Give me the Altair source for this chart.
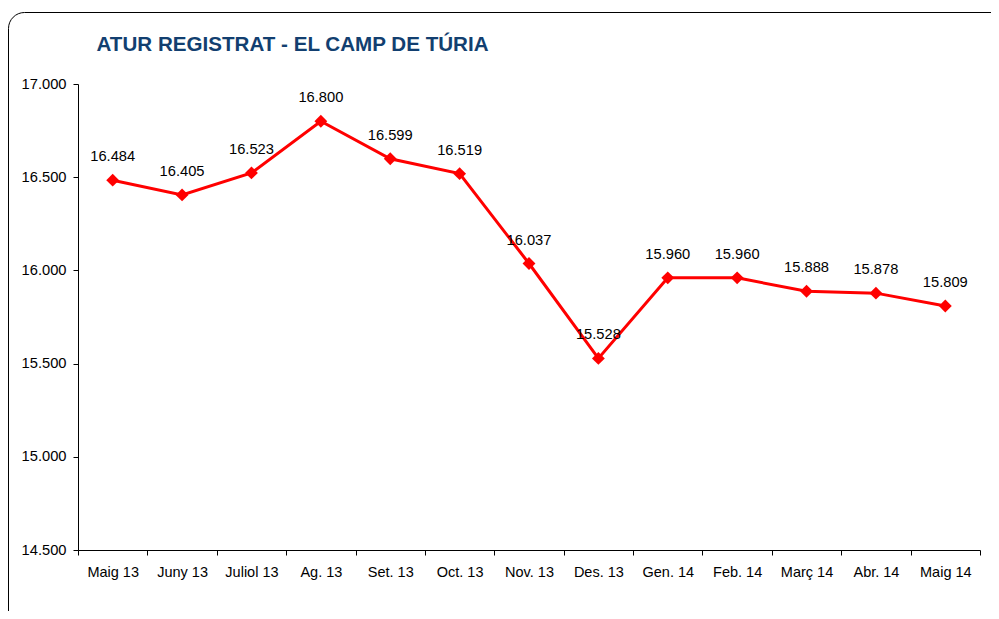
import altair as alt
import pandas as pd

months = ["Maig 13", "Juny 13", "Juliol 13", "Ag. 13", "Set. 13", "Oct. 13", "Nov. 13",
          "Des. 13", "Gen. 14", "Feb. 14", "Març 14", "Abr. 14", "Maig 14"]
values = [16484, 16405, 16523, 16800, 16599, 16519, 16037, 15528, 15960, 15960, 15888, 15878, 15809]
y_ticks = [14500, 15000, 15500, 16000, 16500, 17000]
title_text = "ATUR REGISTRAT - EL CAMP DE TÚRIA"

df = pd.DataFrame({"mes": months, "atur": values})
FONT = "Liberation Sans"

x_enc = alt.X("mes:N", sort=months, bandPosition=0.5,
              scale=alt.Scale(type="band", paddingInner=0, paddingOuter=0),
              axis=alt.Axis(title=None, labelAngle=0, tickBand="extent", tickSize=5,
                            labelPadding=10, labelFontSize=14.5, labelFont=FONT,
                            labelColor="black", domainColor="black", tickColor="black",
                            grid=False))
y_enc = alt.Y("atur:Q", scale=alt.Scale(domain=[14500, 17000], nice=False, zero=False),
              axis=alt.Axis(title=None, values=y_ticks, tickSize=5, labelPadding=7,
                            labelFontSize=14.7, labelFont=FONT, labelColor="black",
                            domainColor="black", tickColor="black", grid=False,
                            labelExpr="replace(format(datum.value, ','), ',', '.')"))

base = alt.Chart(df)

line = base.mark_line(color="#ff0000", strokeWidth=3).encode(x=x_enc, y=y_enc)
pts = base.mark_point(shape="diamond", filled=True, size=165, color="#ff0000", opacity=1).encode(x=x_enc, y=y_enc)
labels = base.transform_calculate(
    lab="replace(format(datum.atur, ','), ',', '.')"
).mark_text(dy=-23, baseline="middle", fontSize=14.7, font=FONT, color="black").encode(
    x=x_enc, y=y_enc, text="lab:N")

box = alt.Chart(alt.Data(values=[{}])).mark_rect(
    fill=None, stroke="black", strokeWidth=1, cornerRadius=16
).encode(x=alt.value(-69.5), x2=alt.value(935), y=alt.value(-71.5), y2=alt.value(545))

title = alt.Chart(alt.Data(values=[{"t": title_text}])).mark_text(
    align="left", baseline="alphabetic", fontSize=20.6, fontWeight="bold", font=FONT,
    color="#123f70"
).encode(x=alt.value(18.5), y=alt.value(-33), text="t:N")

chart = alt.layer(box, line, pts, labels, title).properties(
    width=902, height=466,
    padding={"left": 70, "top": 76, "right": 11, "bottom": 61},
    autosize=alt.AutoSizeParams(type="none"),
    background="white",
).configure_view(stroke=None)

chart.save("out.html", embed_options={"renderer": "svg", "actions": False})
